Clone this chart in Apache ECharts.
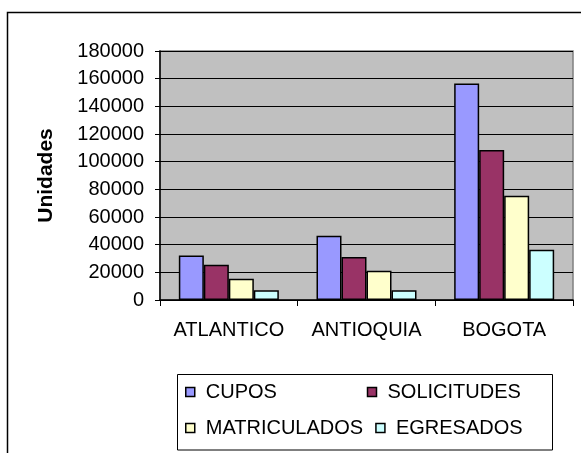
<!DOCTYPE html>
<html>
<head>
<meta charset="utf-8">
<script src="https://cdn.jsdelivr.net/npm/echarts@6/dist/echarts.min.js"></script>
<style>
html,body{margin:0;padding:0;background:#fff;}
#chart{width:581px;height:453px;}
</style>
</head>
<body>
<div id="chart"></div>
<script>
const categories = ['ATLANTICO', 'ANTIOQUIA', 'BOGOTA'];
const cupos = [32200, 46500, 156500];
const solicitudes = [25400, 31000, 108400];
const matriculados = [15400, 21100, 75300];
const egresados = [7000, 7000, 36300];
const seriesNames = ['CUPOS', 'SOLICITUDES', 'MATRICULADOS', 'EGRESADOS'];
const yTicks = [0, 20000, 40000, 60000, 80000, 100000, 120000, 140000, 160000, 180000];

const FONT = 'Arial, "Liberation Sans", sans-serif';
const colors = ['#9999FF', '#993366', '#FFFFCC', '#CCFFFF'];
const seriesData = [cupos, solicitudes, matriculados, egresados];

const chart = echarts.init(document.getElementById('chart'), null, {renderer: 'canvas'});
chart.setOption({
  animation: false,
  backgroundColor: '#ffffff',
  textStyle: {fontFamily: FONT},
  graphic: [
    {type: 'rect', shape: {x: 7.5, y: 12.5, width: 700, height: 600}, style: {fill: 'none', stroke: '#000', lineWidth: 1.5}, z: 100, silent: true},
    {type: 'rect', shape: {x: 177.5, y: 374.5, width: 375, height: 75.5}, style: {fill: 'none', stroke: '#000', lineWidth: 1}, z: 100, silent: true}
  ],
  grid: {left: 160, right: 8, top: 51, bottom: 153, show: true, backgroundColor: '#C0C0C0', borderColor: '#808080', borderWidth: 1.5},
  legend: {
    data: seriesNames,
    left: 177, top: 374,
    orient: 'horizontal',
    width: 380,
    padding: [6, 7, 2, 8],
    itemGap: 12,
    itemWidth: 9, itemHeight: 9,
    icon: 'rect',
    itemStyle: {borderColor: '#000', borderWidth: 1.5},
    textStyle: {fontSize: 20, color: '#000', fontFamily: FONT, width: 149, lineHeight: 24, padding: [0, 0, 0, 6]}
  },
  xAxis: {
    type: 'category', data: categories,
    axisLine: {lineStyle: {color: '#000', width: 1.5}},
    axisTick: {show: true, length: 6, lineStyle: {color: '#000'}},
    axisLabel: {fontSize: 20, color: '#000', margin: 20, fontFamily: FONT, interval: 0},
    splitLine: {show: false}
  },
  yAxis: {
    type: 'value', min: yTicks[0], max: yTicks[yTicks.length - 1], interval: 20000,
    name: 'Unidades', nameLocation: 'middle', nameGap: 103, nameRotate: 90,
    nameTextStyle: {fontSize: 21, fontWeight: 'bold', color: '#000', fontFamily: FONT},
    axisLine: {show: true, lineStyle: {color: '#000', width: 1.5}},
    axisTick: {show: true, length: 5, lineStyle: {color: '#000'}},
    axisLabel: {fontSize: 20, color: '#000', margin: 16, fontFamily: FONT, formatter: v => String(v)},
    splitLine: {show: true, lineStyle: {color: '#000', width: 1}}
  },
  series: seriesNames.map((n, i) => ({
    name: n, type: 'bar', data: seriesData[i],
    barWidth: 25, barGap: '0%',
    itemStyle: {color: colors[i], borderColor: '#000', borderWidth: 1.5}
  }))
});
</script>
</body>
</html>
